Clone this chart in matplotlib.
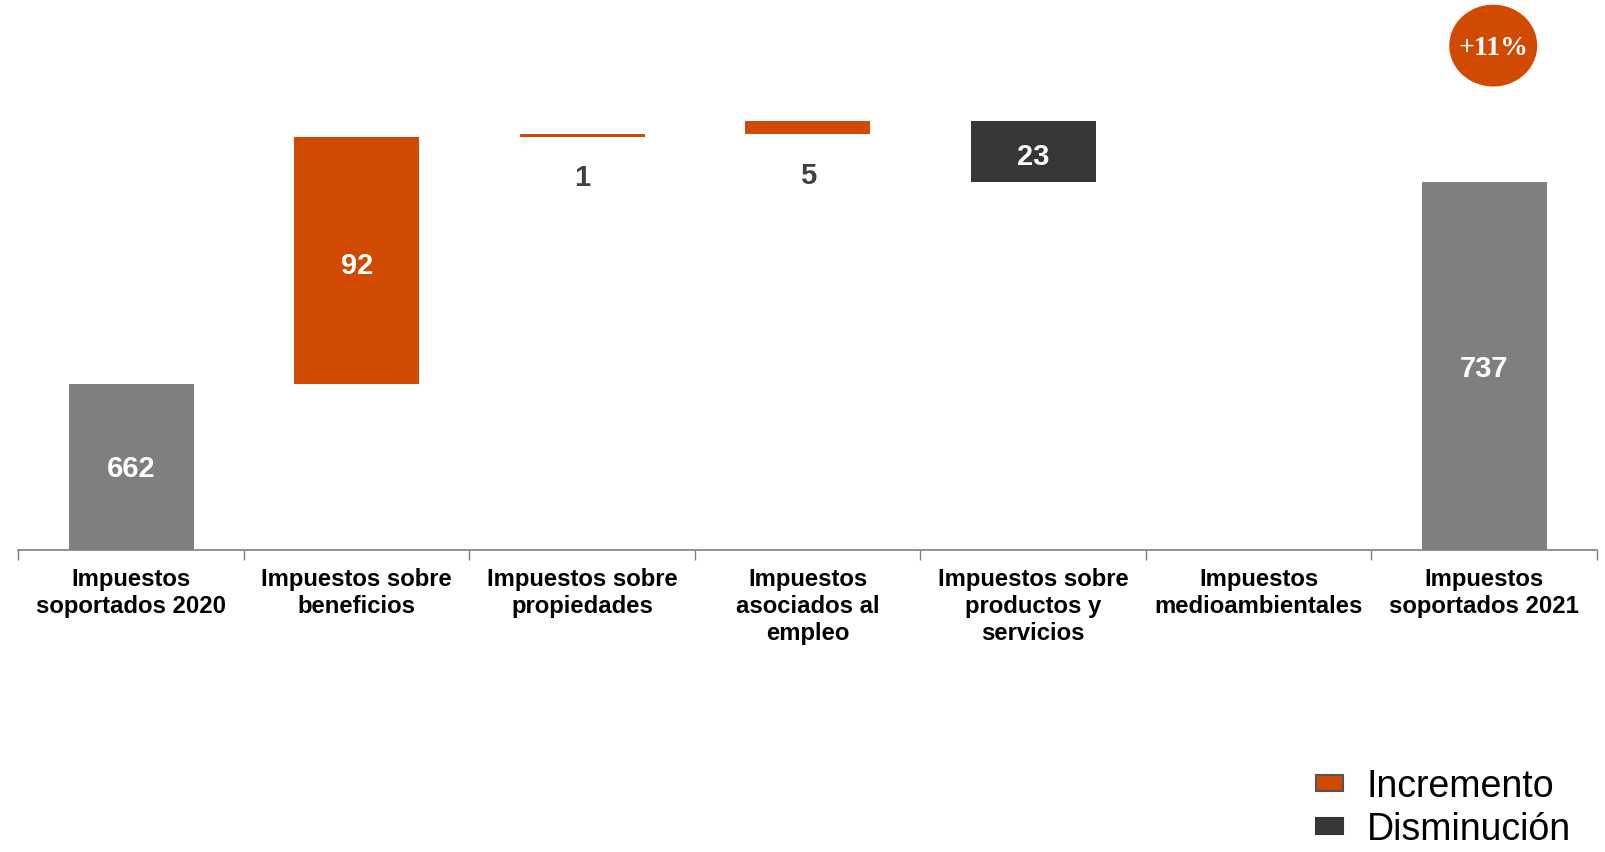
import matplotlib
matplotlib.use("Agg")
import matplotlib.pyplot as plt
from matplotlib.patches import Patch, Ellipse

# data
categories = [
    "Impuestos\nsoportados 2020",
    "Impuestos sobre\nbeneficios",
    "Impuestos sobre\npropiedades",
    "Impuestos\nasociados al\nempleo",
    "Impuestos sobre\nproductos y\nservicios",
    "Impuestos\nmedioambientales",
    "Impuestos\nsoportados 2021",
]
values = [662, 92, 1, 5, -23, 0, 737]
kinds = ["total", "delta", "delta", "delta", "delta", "delta", "total"]
growth_label = "+11%"
legend_labels = ["Incremento", "Disminución"]

ORANGE = "#D04A02"
GREY = "#7F7F7F"
DARK = "#363636"
LABEL_DARK = "#404040"

plt.rcParams["font.family"] = ["Liberation Sans", "DejaVu Sans"]

fig = plt.figure(figsize=(16.05, 8.52), dpi=100)
ax = fig.add_axes([0.0115, 0.3545, 0.9835, 0.6455])

YMIN = 600
running = 0
for i, (v, kind) in enumerate(zip(values, kinds)):
    if kind == "total":
        bottom, height, color = 0, v, GREY
        running = v
    else:
        if v >= 0:
            bottom, height, color = running, v, ORANGE
        else:
            bottom, height, color = running + v, -v, DARK
        running += v
    if height == 0:
        continue
    ax.bar(i, height, bottom=bottom, width=0.555, color=color, linewidth=0)
    if kind == "total":
        ax.text(i, YMIN + (v - YMIN) / 2 - 1, str(v), ha="center", va="center",
                color="white", fontsize=21, fontweight="bold")
    elif height >= 10:
        ax.text(i, bottom + height / 2 - 2, str(abs(v)), ha="center", va="center",
                color="white", fontsize=21, fontweight="bold")
    else:
        ax.text(i, bottom - 15.5, str(abs(v)), ha="center", va="center",
                color=LABEL_DARK, fontsize=21, fontweight="bold")

ax.set_xlim(-0.5, len(categories) - 0.5)
ax.set_ylim(YMIN, 805)

# growth badge above last bar
ax.add_patch(Ellipse((6.04, 788), 0.39, 30.5, color=ORANGE, clip_on=False, linewidth=0))
ax.text(6.04, 787, growth_label, ha="center", va="center", color="white",
        fontsize=20, fontweight="bold", family=["Liberation Serif", "DejaVu Serif"])

for side in ["top", "right", "left"]:
    ax.spines[side].set_visible(False)
ax.spines["bottom"].set_color(GREY)
ax.spines["bottom"].set_linewidth(1.2)
ax.set_yticks([])
ax.set_xticks(range(len(categories)))
ax.set_xticklabels(categories, fontsize=17.2, fontweight="bold", linespacing=1.23)
ax.tick_params(axis="x", which="major", length=0, pad=13)
ax.set_xticks([i - 0.5 for i in range(len(categories) + 1)], minor=True)
ax.tick_params(axis="x", which="minor", length=7, width=1, color=GREY, direction="out")

handles = [
    Patch(facecolor=ORANGE, edgecolor="#555555", linewidth=1.5),
    Patch(facecolor=DARK, edgecolor=DARK, linewidth=1.5),
]
fig.legend(handles, legend_labels, loc="lower left", bbox_to_anchor=(0.808, -0.017),
           frameon=False, fontsize=27, handlelength=0.72, handleheight=0.28,
           handletextpad=0.65, labelspacing=0.18, borderpad=0)

fig.savefig("out.png", dpi=100)
